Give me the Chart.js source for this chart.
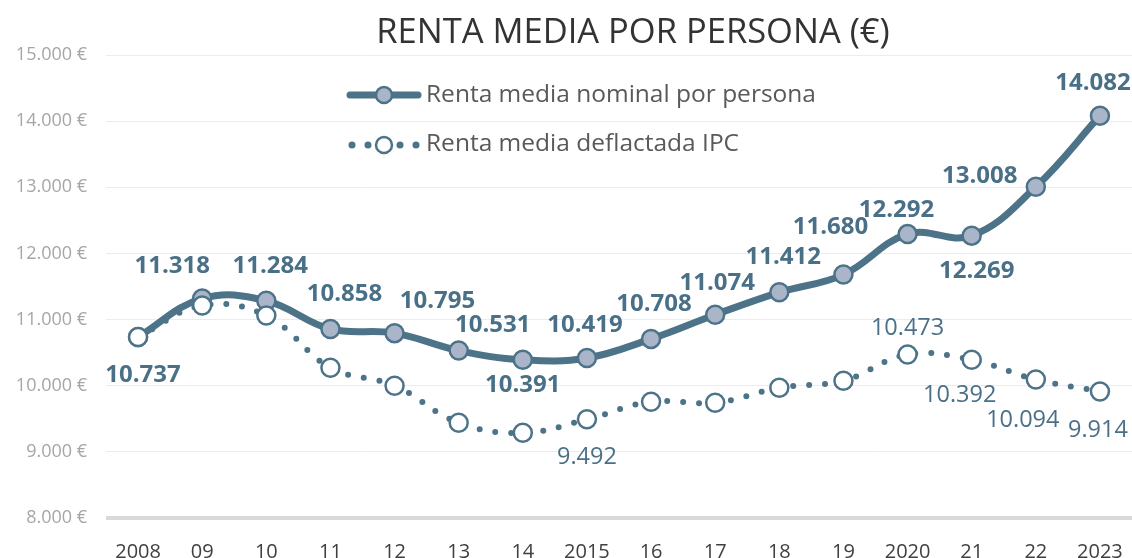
<!DOCTYPE html>
<html>
<head>
<meta charset="utf-8">
<script src="https://cdn.jsdelivr.net/npm/chart.js@4/dist/chart.umd.min.js"></script>
<style>
  html, body { margin: 0; padding: 0; background: #fff; }
  #wrap { width: 1132px; height: 558px; }
</style>
</head>
<body>
<div id="wrap"><canvas id="c" width="1132" height="558"></canvas></div>
<script>
const years = ['2008', '09', '10', '11', '12', '13', '14', '2015', '16', '17', '18', '19', '2020', '21', '22', '2023']
const nominal = [10737, 11318, 11284, 10858, 10795, 10531, 10391, 10419, 10708, 11074, 11412, 11680, 12292, 12269, 13008, 14082]
const deflated = [10737, 11212, 11060, 10273, 10000, 9440, 9288, 9492, 9758, 9742, 9970, 10076, 10473, 10392, 10094, 9914]
// which deflated values carry a label
const deflatedShown = [false, false, false, false, false, false, false, true, false, false, false, false, true, true, true, true]
const yTicks = [8000, 9000, 10000, 11000, 12000, 13000, 14000, 15000]

// label offsets from the point (dx, dy)
const nomOffsets = [[5, 38], [-30, -32], [4, -35], [14, -35], [43, -32], [34, -25], [0, 25], [-2, -33],
  [3, -35], [2, -32], [4, -35], [-13, -47], [-11, -24], [5, 36], [-56, -11], [-7, -33]]
const defOffsets = [[0, 0], [0, 0], [0, 0], [0, 0], [0, 0], [0, 0], [0, 0], [0, 38],
  [0, 0], [0, 0], [0, 0], [0, 0], [0, -26], [-12, 36], [-13, 41], [-2, 39]]

const dark = '#4d7389'
const labelColor = '#4a7088'
const fam = '"Open Sans", "Noto Sans", sans-serif'

const fmt = v => String(v).replace(/\B(?=(\d{3})+(?!\d))/g, '.')

const extras = {
  id: 'extras',
  afterDatasetsDraw(chart) {
    const ctx = chart.ctx
    ctx.save()
    ctx.textAlign = 'center'
    ctx.textBaseline = 'middle'

    // nominal labels
    const mNom = chart.getDatasetMeta(1)
    ctx.font = 'bold 24px ' + fam
    ctx.fillStyle = labelColor
    mNom.data.forEach((p, i) => {
      ctx.fillText(fmt(nominal[i]), p.x + nomOffsets[i][0], p.y + nomOffsets[i][1])
    })

    // deflated labels
    const mDef = chart.getDatasetMeta(0)
    ctx.font = '23.5px ' + fam
    mDef.data.forEach((p, i) => {
      if (!deflatedShown[i]) return
      ctx.fillText(fmt(deflated[i]), p.x + defOffsets[i][0], p.y + defOffsets[i][1])
    })

    // title
    ctx.font = '34.5px ' + fam
    ctx.fillStyle = '#333333'
    ctx.fillText('RENTA MEDIA POR PERSONA (€)', 633, 33)

    // legend
    ctx.textAlign = 'left'
    ctx.strokeStyle = dark
    ctx.lineCap = 'round'
    ctx.lineWidth = 7
    ctx.beginPath()
    ctx.moveTo(350, 95)
    ctx.lineTo(418, 95)
    ctx.stroke()
    ctx.lineWidth = 2.5
    ctx.fillStyle = '#aab5c9'
    ctx.beginPath()
    ctx.arc(384, 95, 8, 0, Math.PI * 2)
    ctx.fill()
    ctx.stroke()
    ctx.fillStyle = dark
    ;[352, 368, 400, 416].forEach(x => {
      ctx.beginPath()
      ctx.arc(x, 145, 3.5, 0, Math.PI * 2)
      ctx.fill()
    })
    ctx.fillStyle = '#fff'
    ctx.beginPath()
    ctx.arc(384, 145, 8, 0, Math.PI * 2)
    ctx.fill()
    ctx.stroke()
    ctx.font = '24.5px ' + fam
    ctx.fillStyle = '#595959'
    ctx.fillText('Renta media nominal por persona', 426, 95)
    ctx.fillText('Renta media deflactada IPC', 426, 144)
    ctx.restore()
  }
}

new Chart(document.getElementById('c'), {
  type: 'line',
  data: {
    labels: years,
    datasets: [
      {
        label: 'Renta media deflactada IPC',
        data: deflated,
        borderColor: dark,
        borderWidth: 6,
        borderDash: [0, 16],
        borderCapStyle: 'round',
        tension: 0.4,
        pointRadius: 9,
        pointBorderWidth: 2.5,
        pointBackgroundColor: '#ffffff',
        pointBorderColor: dark
      },
      {
        label: 'Renta media nominal por persona',
        data: nominal,
        borderColor: dark,
        borderWidth: 7,
        tension: 0.4,
        pointRadius: 9,
        pointBorderWidth: 2.5,
        pointBackgroundColor: '#aab5c9',
        pointBorderColor: dark
      }
    ]
  },
  options: {
    responsive: false,
    animation: false,
    layout: { autoPadding: false, padding: { top: 55, right: 0, left: 0, bottom: 0 } },
    plugins: {
      legend: { display: false },
      tooltip: { enabled: false },
      title: { display: false }
    },
    scales: {
      x: {
        offset: true,
        grid: { display: false },
        border: { display: false },
        ticks: {
          color: '#404040',
          font: { family: fam, size: 20 },
          padding: 14,
          maxRotation: 0,
          autoSkip: false
        },
        afterFit(scale) {
          scale.height = 40
          scale.paddingLeft = 0
          scale.paddingRight = 0
        }
      },
      y: {
        min: yTicks[0],
        max: yTicks[yTicks.length - 1],
        afterBuildTicks(scale) { scale.ticks = yTicks.map(v => ({ value: v })) },
        grid: {
          drawTicks: false,
          color: ctx => ctx.tick && ctx.tick.value === 8000 ? '#d9d9d9' : '#ececec',
          lineWidth: ctx => ctx.tick && ctx.tick.value === 8000 ? 4 : 1
        },
        border: { display: false },
        ticks: {
          color: '#a6a6a6',
          font: { family: fam, size: 18 },
          padding: 19,
          callback: v => fmt(v) + ' €'
        },
        afterFit(scale) { scale.width = 106 }
      }
    }
  },
  plugins: [extras]
})
</script>
</body>
</html>
